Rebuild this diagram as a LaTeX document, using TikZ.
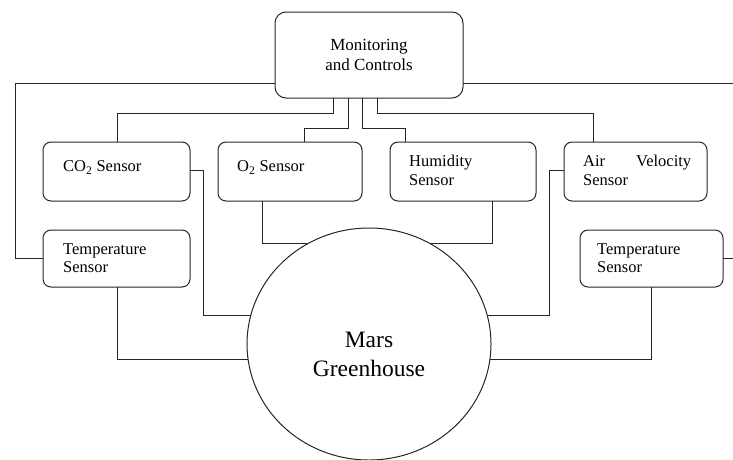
\documentclass[tikz,border=0pt]{standalone}
\usepackage{fontspec}
\setmainfont{Liberation Serif}
\usetikzlibrary{backgrounds,shapes.geometric}
\begin{document}
\begin{tikzpicture}[x=1pt,y=-1pt,
  wire/.style={draw=black!85, line width=1pt},
  box/.style={draw=black!85, line width=1pt, rounded corners=8pt, minimum width=147pt, minimum height=59pt, anchor=north west, inner sep=0pt, outer sep=0pt},
  lbl/.style={anchor=base west, inner sep=0pt, font=\fontsize{16.5}{19}\selectfont},
  biglbl/.style={anchor=base, inner sep=0pt, font=\fontsize{23.5}{29}\selectfont}]
\useasboundingbox (0,0) rectangle (733,459);
% boxes
\node[box, minimum width=188pt, minimum height=86pt, rounded corners=11pt, anchor=center, align=center, font=\fontsize{17}{20}\selectfont] (mc) at (369,55) {Monitoring\\and Controls};
\node[box] (co2) at (43,142) {};
\node[box, minimum width=144pt] (o2) at (218,142) {};
\node[box, minimum width=146pt] (hum) at (390,142) {};
\node[box, minimum width=143pt] (air) at (564,142) {};
\node[box, minimum height=57pt] (tl) at (43,230) {};
\node[box, minimum width=143pt, minimum height=57pt] (tr) at (580,230) {};
\node[ellipse, draw=black!85, line width=1pt, fill=white, minimum width=244pt, minimum height=232pt, inner sep=0pt, outer sep=0pt] (gh) at (369,344) {};
% labels
\node[lbl] (tco2) at (63,171.5) {CO\textsubscript{2} Sensor};
\node[lbl] (to2) at (237,171.5) {O\textsubscript{2} Sensor};
\node[lbl] (thum1) at (409,166) {Humidity};
\node[lbl] (thum2) at (409,185) {Sensor};
\node[lbl] (tair1) at (583,166) {\makebox[108pt][l]{Air\hfill Velocity}};
\node[lbl] (tair2) at (583,185) {Sensor};
\node[lbl] (ttl1) at (63,254) {Temperature};
\node[lbl] (ttl2) at (63,272.5) {Sensor};
\node[lbl] (ttr1) at (597,254) {Temperature};
\node[lbl] (ttr2) at (597,272.5) {Sensor};
\node[biglbl] (tm) at (369,347) {Mars};
\node[biglbl] (tg) at (369,376) {Greenhouse};
% connectors
\begin{scope}[on background layer]
\draw[wire] (mc.west |- 0,83) -| (15,258) -- (tl.west |- 0,258);
\draw[wire] (mc.east |- 0,83) -- (734,83) |- (tr.east |- 0,258);
\draw[wire] (mc.south -| 333,0) |- (117,113) -- (co2.north -| 117,0);
\draw[wire] (mc.south -| 348,0) |- (304,128) -- (o2.north -| 304,0);
\draw[wire] (mc.south -| 362,0) |- (405,128) -- (hum.north -| 405,0);
\draw[wire] (mc.south -| 377,0) |- (593,113) -- (air.north -| 593,0);
\draw[wire] (co2.east |- 0,170) -| (203,315) -- (gh.center |- 0,315);
\draw[wire] (o2.south -| 262,0) |- (gh.center |- 0,243);
\draw[wire] (hum.south -| 492,0) |- (gh.center |- 0,243);
\draw[wire] (air.west |- 0,170) -| (549,315) -- (gh.center |- 0,315);
\draw[wire] (tl.south -| 117,0) |- (gh.center |- 0,359);
\draw[wire] (tr.south -| 651,0) |- (gh.center |- 0,359);
\end{scope}
\end{tikzpicture}
\end{document}
